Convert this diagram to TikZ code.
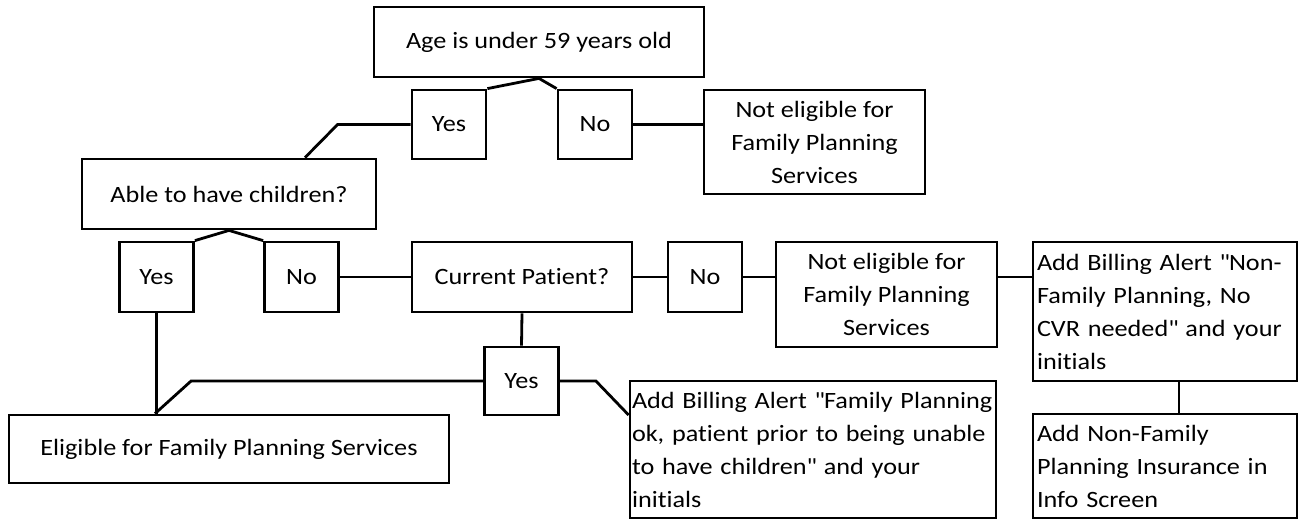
\documentclass[tikz,border=0pt]{standalone}
\usepackage{fontspec}
\setmainfont{Carlito}[FakeStretch=1.12,Ligatures=NoCommon]
\usepackage{tikz}
\usetikzlibrary{positioning}
\hyphenpenalty=10000\relax

\begin{document}
\begin{tikzpicture}[x=1pt,y=-1pt,line width=2.8pt,
  box/.style={draw,line width=2.8pt,inner sep=0pt,align=center,
    font=\fontsize{23.4}{33}\selectfont},
  answer/.style={box,minimum width=74pt,minimum height=69pt},
  notebox/.style={box,align=left,inner xsep=4pt}]
  \useasboundingbox (0,0) rectangle (1299,519);

  % Age question
  \node[box,minimum width=330pt,minimum height=70pt] (age) at (539,42) {Age is under 59 years old};
  \node[answer] (yesA) at (449,124.5) {Yes};
  \node[answer] (noA) at (595,124.5) {No};
  \node[box,minimum width=221pt,minimum height=104pt] (notA) at (814.5,142)
    {Not eligible for\\Family Planning\\Services};
  \draw (age.south) -- (yesA.north east);
  \draw (age.south) -- (noA.north west);
  \draw (noA.east) -- (noA.east -| notA.west);

  % Children question
  \node[box,minimum width=294pt,minimum height=70pt] (able) at (229,194) {Able to have children?};
  \draw (yesA.west) -- ++(-73,0) -- ([xshift=76pt]able.north);
  \node[answer,minimum height=70pt] (yesB) at (156.5,277) {Yes};
  \node[answer,minimum height=70pt] (noB) at (301.5,277) {No};
  \draw (able.south) -- (yesB.north east);
  \draw (able.south) -- (noB.north west);

  % Current patient question
  \node[box,minimum width=220pt,minimum height=70pt] (current) at (522,277) {Current Patient?};
  \node[answer,minimum height=70pt] (noC) at (705,277) {No};
  \node[box,minimum width=221pt,minimum height=105pt] (notB) at (886.5,294.5)
    {Not eligible for\\Family Planning\\Services};
  \draw (noB) -- (current);
  \draw (current) -- (noC);
  \draw (noC.east) -- (noC.east -| notB.west);

  % Non-family planning steps
  \node[notebox,text width=256pt,minimum height=139pt] (billB) at (1165,311.5)
    {Add Billing Alert \textquotedbl{}Non-\\Family Planning, No\\CVR needed\textquotedbl{} and your\\initials};
  \node[notebox,text width=256pt,minimum height=104pt] (nonfam) at (1165,466)
    {Add Non-Family\\Planning Insurance in\\Info Screen};
  \draw (noC.east -| notB.east) -- (noC.east -| billB.west);
  \draw ([xshift=14pt]billB.south) -- ([xshift=14pt]nonfam.north);

  % Eligible branch
  \node[answer,minimum height=68pt] (yesC) at (521.5,381) {Yes};
  \node[box,minimum width=440pt,minimum height=68pt] (elig) at (229,449)
    {Eligible for Family Planning Services};
  \node[notebox,inner xsep=2pt,text width=362pt,minimum height=137pt] (billA) at (813,449.5)
    {Add Billing Alert \textquotedbl{}Family Planning\\ok, patient prior to being unable\\to have children\textquotedbl{} and your\\initials};
  \draw (current.south) -- (yesC.north);
  \draw (yesB.south) -- (yesB.south |- elig.north);
  \draw (yesC.west) -- ++(-292,0) -- ([xshift=-74pt]elig.north);
  \draw (yesC.east) -- ++(36,0) -- ([yshift=34.5pt]billA.west);
\end{tikzpicture}
\end{document}
